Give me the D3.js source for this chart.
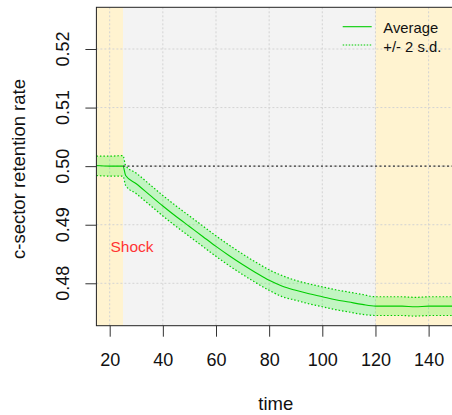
<!DOCTYPE html>
<html><head><meta charset="utf-8">
<script src="https://cdn.jsdelivr.net/npm/d3@7"></script>
<style>html,body{margin:0;padding:0;background:#fff;}svg{display:block;}</style>
</head><body>
<svg id="chart" width="452" height="415"></svg>
<script>
const time    = [15,20,25,26,30,35,40,45,50,55,60,65,70,75,80,85,90,95,100,105,110,115,120,125,130,135,140,145,150];
const average = [0.5001,0.5000,0.5000,0.4984,0.4970,0.4951,0.4932,0.4914,0.4897,0.4880,0.4863,0.4847,0.4832,0.4818,0.4805,0.4795,0.4788,0.4782,0.4777,0.4772,0.4768,0.4764,0.4761,0.4761,0.4761,0.4760,0.4761,0.4761,0.4761];
const upper   = [0.5017,0.5017,0.5018,0.5001,0.4988,0.4969,0.4950,0.4932,0.4915,0.4898,0.4881,0.4865,0.4850,0.4836,0.4823,0.4813,0.4805,0.4799,0.4794,0.4789,0.4785,0.4781,0.4777,0.4777,0.4777,0.4776,0.4777,0.4777,0.4777];
const lower   = [0.4984,0.4983,0.4983,0.4967,0.4953,0.4934,0.4915,0.4897,0.4880,0.4863,0.4846,0.4830,0.4815,0.4801,0.4788,0.4777,0.4771,0.4765,0.4760,0.4755,0.4751,0.4747,0.4745,0.4745,0.4745,0.4744,0.4745,0.4745,0.4745];
const xTicks = [20,40,60,80,100,120,140];
const yTicks = [0.48,0.49,0.50,0.51,0.52];
const shockTime = 25, endTime = 120, baseline = 0.50;
const legendLabels = ["Average", "+/- 2 s.d."];

const svg = d3.select("#chart");
const font = "'Liberation Sans', Arial, sans-serif";
const x = d3.scaleLinear().domain([15, 150]).range([96.4, 455.2]);
const y = d3.scaleLinear().domain([0.47276, 0.52712]).range([325.7, 7.3]);
const [x0, x1] = x.range(); const [yb, yt] = y.range();

const pts = time.map((t,i)=>({t, a:average[i], u:upper[i], l:lower[i]}));
const curve = d3.curveMonotoneX;

// backgrounds
svg.append("rect").attr("x",x0).attr("y",yt).attr("width",x1-x0).attr("height",yb-yt).attr("fill","#f3f3f3");
svg.append("rect").attr("x",x0).attr("y",yt).attr("width",x(shockTime)-x0).attr("height",yb-yt).attr("fill","#fff3d0");
svg.append("rect").attr("x",x(endTime)).attr("y",yt).attr("width",x1-x(endTime)).attr("height",yb-yt).attr("fill","#fff3d0");

// grid
const grid = svg.append("g").attr("stroke","#d3d3d3").attr("stroke-dasharray","2,2").attr("stroke-width",1);
xTicks.forEach(v=>grid.append("line").attr("x1",x(v)).attr("x2",x(v)).attr("y1",yt).attr("y2",yb));
yTicks.forEach(v=>grid.append("line").attr("x1",x0).attr("x2",x1).attr("y1",y(v)).attr("y2",y(v)));

// band
svg.append("path").datum(pts).attr("fill","rgba(0,255,0,0.2)")
  .attr("d", d3.area().curve(curve).x(d=>x(d.t)).y0(d=>y(d.l)).y1(d=>y(d.u)));
const lineU = d3.line().curve(curve).x(d=>x(d.t)).y(d=>y(d.u));
const lineL = d3.line().curve(curve).x(d=>x(d.t)).y(d=>y(d.l));
const lineA = d3.line().curve(curve).x(d=>x(d.t)).y(d=>y(d.a));
svg.append("path").datum(pts).attr("fill","none").attr("stroke","#00cd00").attr("stroke-width",1.2).attr("stroke-dasharray","1.5,2").attr("d",lineU);
svg.append("path").datum(pts).attr("fill","none").attr("stroke","#00cd00").attr("stroke-width",1.2).attr("stroke-dasharray","1.5,2").attr("d",lineL);
svg.append("path").datum(pts).attr("fill","none").attr("stroke","#00cd00").attr("stroke-width",1.1).attr("d",lineA);

// reference line
svg.append("line").attr("x1",x(shockTime)).attr("x2",x1).attr("y1",y(baseline)).attr("y2",y(baseline))
  .attr("stroke","#333").attr("stroke-width",1.2).attr("stroke-dasharray","2,2.5");

// box
svg.append("rect").attr("x",x0).attr("y",yt).attr("width",x1-x0).attr("height",yb-yt)
  .attr("fill","none").attr("stroke","#222").attr("stroke-width",1);

// axes
const ax = svg.append("g").attr("transform",`translate(0,${yb})`)
  .call(d3.axisBottom(x).tickValues(xTicks).tickSize(11).tickPadding(17).tickFormat(d3.format("d")));
ax.select(".domain").remove();
ax.selectAll("line").attr("stroke","#333");
ax.selectAll("text").attr("font-family",font).attr("font-size",18).attr("fill","#111");

const ay = svg.append("g").attr("transform",`translate(${x0},0)`)
  .call(d3.axisLeft(y).tickValues(yTicks).tickSize(11).tickFormat(d3.format(".2f")));
ay.select(".domain").remove();
ay.selectAll("line").attr("stroke","#333");
ay.selectAll("text").remove();
yTicks.forEach(v=>{
  svg.append("text").attr("transform",`translate(69,${y(v)}) rotate(-90)`).attr("text-anchor","middle")
    .attr("font-family",font).attr("font-size",18).attr("fill","#111").text(d3.format(".2f")(v));
});

// axis titles
svg.append("text").attr("x",(x0+x1)/2).attr("y",410).attr("text-anchor","middle")
  .attr("font-family",font).attr("font-size",18.5).attr("fill","#111").text("time");
svg.append("text").attr("transform",`translate(25,169) rotate(-90)`).attr("text-anchor","middle")
  .attr("font-family",font).attr("font-size",18.5).attr("fill","#111").text("c-sector retention rate");

// shock label
svg.append("text").attr("x",x(20.3)).attr("y",y(0.4854)).attr("font-family",font).attr("font-size",15.5)
  .attr("fill","#ff3333").text("Shock");

// legend
const lg = svg.append("g");
lg.append("line").attr("x1",342.7).attr("x2",371.7).attr("y1",26.7).attr("y2",26.7).attr("stroke","#00cd00").attr("stroke-width",1.1);
lg.append("line").attr("x1",342.7).attr("x2",371.7).attr("y1",45).attr("y2",45).attr("stroke","#00cd00").attr("stroke-width",1.1).attr("stroke-dasharray","1.5,1.5");
legendLabels.forEach((t,i)=>{
  lg.append("text").attr("x",383.3).attr("y",i===0?32.5:51.5).attr("font-family",font).attr("font-size",14.8)
    .attr("fill","#111").text(t);
});
</script>
</body></html>
